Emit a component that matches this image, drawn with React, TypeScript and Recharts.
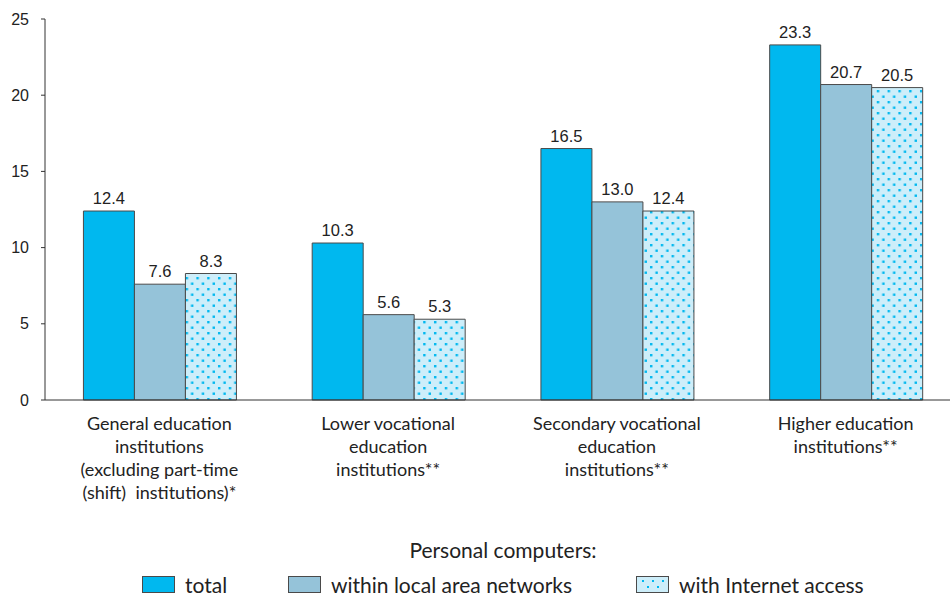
import { Bar, BarChart, LabelList, XAxis, YAxis } from "recharts";

const categories = ["General", "Lower", "Secondary", "Higher"];
const tickLines = [
  ["General education", "institutions", "(excluding part-time", "(shift)  institutions)*"],
  ["Lower vocational", "education", "institutions**"],
  ["Secondary vocational", "education", "institutions**"],
  ["Higher education", "institutions**"],
];
const total = [12.4, 10.3, 16.5, 23.3];
const localNet = [7.6, 5.6, 13.0, 20.7];
const internet = [8.3, 5.3, 12.4, 20.5];
const yTicks = [0, 5, 10, 15, 20, 25];
const legendTitle = "Personal computers:";
const legendItems = ["total", "within local area networks", "with Internet access"];

const data = categories.map((name, i) => ({
  name,
  idx: i + 0.5,
  total: total[i],
  localNet: localNet[i],
  internet: internet[i],
}));

const CYAN = "#00b8ef";
const LIGHT = "#95c3d9";
const EDGE = "#4a4a4a";

function CatTick({ x, y, payload }: any) {
  const lines = tickLines[payload.index] ?? [];
  return (
    <text
      x={x}
      y={y}
      textAnchor="middle"
      fontFamily="Lato, sans-serif"
      fontSize={18}
      fill="#222"
    >
      {lines.map((l, i) => (
        <tspan key={i} x={x} y={y + 22 + i * 23} style={{ whiteSpace: "pre" }}>
          {l}
        </tspan>
      ))}
    </text>
  );
}

function Swatch({ kind }: { kind: number }) {
  if (kind === 2) {
    return (
      <svg width={33} height={17} style={{ display: "block" }}>
        <rect x={0.5} y={0.5} width={32} height={16} fill="#cdeefa" stroke={EDGE} />
        <rect x={6} y={4} width={2} height={2} fill={CYAN} />
        <rect x={16} y={4} width={2} height={2} fill={CYAN} />
        <rect x={26} y={4} width={2} height={2} fill={CYAN} />
        <rect x={11} y={10} width={2} height={2} fill={CYAN} />
        <rect x={21} y={10} width={2} height={2} fill={CYAN} />
      </svg>
    );
  }
  return (
    <svg width={33} height={17} style={{ display: "block" }}>
      <rect x={0.5} y={0.5} width={32} height={16} fill={kind === 0 ? CYAN : LIGHT} stroke={EDGE} />
    </svg>
  );
}

function LegendBox() {
  const lefts = [142, 288, 636];
  return (
    <div style={{ position: "absolute", top: 537, left: 0, width: 950, height: 60, fontFamily: "Lato, sans-serif", color: "#222" }}>
      <div style={{ position: "absolute", top: 0, left: 0, width: 1006, textAlign: "center", fontSize: 21 }}>
        {legendTitle}
      </div>
      {legendItems.map((t, i) => (
        <div
          key={t}
          style={{ position: "absolute", top: 35, left: lefts[i], display: "flex", alignItems: "center", gap: 10, fontSize: 21, whiteSpace: "nowrap" }}
        >
          <Swatch kind={i} />
          <span>{t}</span>
        </div>
      ))}
    </div>
  );
}

const labelStyle = { fontFamily: "'Liberation Sans', Arial, sans-serif", fontSize: 16.5, fill: "#222" };
const fmt = (v: any) => Number(v).toFixed(1);

export default function App() {
  return (
    <div style={{ position: "absolute", top: 0, left: 0, width: 950, height: 597, overflow: "hidden", background: "#fff" }}>
      <BarChart
        width={975}
        height={597}
        data={data}
        margin={{ top: 19, right: 15, bottom: 97, left: 0 }}
        barCategoryGap="16.8%"
        barGap={0}
      >
        <defs>
          <pattern id="dots" width="10.8" height="11" patternUnits="userSpaceOnUse">
            <rect width="10.8" height="11" fill="#cdeefa" />
            <rect x="2" y="2" width="2.4" height="2.4" fill={CYAN} />
            <rect x="7.4" y="7.5" width="2.4" height="2.4" fill={CYAN} />
          </pattern>
        </defs>
        <XAxis
          dataKey="name"
          xAxisId="cat"
          tickLine={false}
          axisLine={{ stroke: "#333" }}
          tick={<CatTick />}
          interval={0}
          height={100}
        />
        <XAxis
          dataKey="idx"
          xAxisId="sep"
          type="number"
          domain={[0, 4]}
          ticks={[0, 1, 2, 3]}
          tick={false}
          tickSize={6}
          tickLine={{ stroke: "#333" }}
          axisLine={false}
          height={0}
        />
        <YAxis
          domain={[0, 25]}
          ticks={yTicks}
          width={45}
          tickSize={4}
          tickMargin={12}
          axisLine={{ stroke: "#333" }}
          tickLine={{ stroke: "#333" }}
          tick={{ ...labelStyle, fontSize: 16 }}
        />
        <Bar xAxisId="cat" dataKey="total" fill={CYAN} stroke={EDGE} strokeWidth={1} isAnimationActive={false}>
          <LabelList dataKey="total" position="top" offset={7} formatter={fmt} style={labelStyle} />
        </Bar>
        <Bar xAxisId="cat" dataKey="localNet" fill={LIGHT} stroke={EDGE} strokeWidth={1} isAnimationActive={false}>
          <LabelList dataKey="localNet" position="top" offset={7} formatter={fmt} style={labelStyle} />
        </Bar>
        <Bar xAxisId="cat" dataKey="internet" fill="url(#dots)" stroke={EDGE} strokeWidth={1} isAnimationActive={false}>
          <LabelList dataKey="internet" position="top" offset={7} formatter={fmt} style={labelStyle} />
        </Bar>
      </BarChart>
      <LegendBox />
    </div>
  );
}
